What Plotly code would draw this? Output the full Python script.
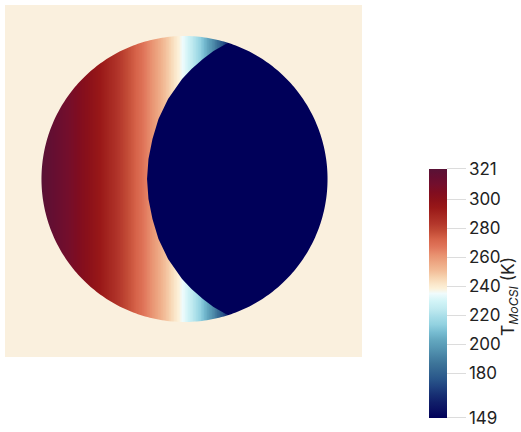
import numpy as np
import plotly.graph_objects as go

# Day-side surface temperature (K) across the disk, sampled along the
# horizontal direction (x in planet radii, star to the left).
profile_x = [-1.0, -0.9, -0.8, -0.7, -0.6, -0.5, -0.4, -0.3, -0.2, -0.1,
             0.0, 0.1, 0.2, 0.3, 0.4]
profile_T = [321, 315, 309, 302, 295, 287, 278, 269, 258, 246,
             233, 216, 194, 165, 150]

# Edge of the cold night region (x in planet radii) versus |y|.
edge_abs_y = [0.0, 0.140, 0.280, 0.420, 0.559, 0.699, 0.769, 0.839, 0.895, 0.941, 1.0]
edge_x = [-0.262, -0.252, -0.224, -0.182, -0.115, -0.017, 0.049, 0.129, 0.203, 0.283, 0.40]

T_night = 149
T_min, T_max = 149, 321
tick_vals = [149, 180, 200, 220, 240, 260, 280, 300, 321]
tick_text = [str(v) for v in tick_vals]
bar_title = "T<sub><i>MoCSI</i></sub> (K)"

BG = "#faf0de"
NIGHT = "rgb(0,0,89)"
x_range = [-1.255, 1.241]
y_range = [-1.245, 1.217]

# ParaView "Cool to Warm (Extended)" colour map
ctw_points = [
    (0.0, 0.0, 0.0, 0.34902),
    (0.03125, 0.039216, 0.062745, 0.380392),
    (0.0625, 0.062745, 0.117647, 0.411765),
    (0.09375, 0.090196, 0.184314, 0.45098),
    (0.125, 0.12549, 0.262745, 0.501961),
    (0.15625, 0.160784, 0.337255, 0.541176),
    (0.1875, 0.2, 0.396078, 0.568627),
    (0.21875, 0.239216, 0.454902, 0.6),
    (0.25, 0.286275, 0.521569, 0.65098),
    (0.28125, 0.337255, 0.592157, 0.701961),
    (0.3125, 0.388235, 0.654902, 0.74902),
    (0.34375, 0.466667, 0.737255, 0.819608),
    (0.375, 0.572549, 0.819608, 0.878431),
    (0.40625, 0.654902, 0.866667, 0.909804),
    (0.4375, 0.752941, 0.917647, 0.941176),
    (0.46875, 0.823529, 0.956863, 0.968627),
    (0.5, 0.941176, 0.984314, 0.988235),
    (0.52, 0.988235, 0.945098, 0.85098),
    (0.54, 0.980392, 0.898039, 0.784314),
    (0.5625, 0.968627, 0.835294, 0.698039),
    (0.59375, 0.94902, 0.733333, 0.588235),
    (0.625, 0.929412, 0.65098, 0.509804),
    (0.65625, 0.909804, 0.564706, 0.435294),
    (0.6875, 0.878431, 0.458824, 0.352941),
    (0.71875, 0.839216, 0.388235, 0.286275),
    (0.75, 0.760784, 0.294118, 0.211765),
    (0.78125, 0.701961, 0.211765, 0.168627),
    (0.8125, 0.65098, 0.156863, 0.129412),
    (0.84375, 0.6, 0.094118, 0.094118),
    (0.875, 0.54902, 0.066667, 0.098039),
    (0.90625, 0.501961, 0.05098, 0.12549),
    (0.9375, 0.45098, 0.054902, 0.172549),
    (0.96875, 0.4, 0.054902, 0.192157),
    (1.0, 0.34902, 0.070588, 0.211765),
]
colorscale = [[p, "rgb(%d,%d,%d)" % (round(r * 255), round(g * 255), round(b * 255))]
              for p, r, g, b in ctw_points]

# Day-side field: temperature varies with x only
ncol = 400
x_edges = np.linspace(-1.02, 1.02, ncol + 1)
x_mid = 0.5 * (x_edges[:-1] + x_edges[1:])
z_day = np.interp(x_mid, profile_x, profile_T)[None, :]

# Night region outline: the edge curve (top to bottom) closed by an arc
# just outside the limb on the right-hand side.
ey = np.array(edge_abs_y)
ex = np.array(edge_x)
term_y = np.concatenate([ey[::-1], -ey[1:]])
term_x = np.concatenate([ex[::-1], ex[1:]])
a0 = np.arctan2(term_y[-1], term_x[-1])
a1 = np.arctan2(term_y[0], term_x[0])
arc = np.linspace(a0, a1, 120)
night_x = np.concatenate([term_x, 1.1 * np.cos(arc)])
night_y = np.concatenate([term_y, 1.1 * np.sin(arc)])

# Mask: plot rectangle with a circular hole for the planet disk
th = np.linspace(0, 2 * np.pi, 361)[:-1]
rect = "M %g,%g L %g,%g L %g,%g L %g,%g Z" % (
    x_range[0], y_range[0], x_range[0], y_range[1],
    x_range[1], y_range[1], x_range[1], y_range[0])
hole = "M " + " L ".join("%.5f,%.5f" % (np.cos(t), np.sin(t)) for t in th) + " Z"

fig = go.Figure()
fig.add_trace(go.Heatmap(
    x=x_edges, y=[-1.02, 1.02], z=z_day,
    zmin=T_min, zmax=T_max,
    colorscale=colorscale,
    hoverinfo="skip",
    colorbar=dict(
        x=1.1877, xanchor="left", xpad=0,
        y=0.1804, yanchor="middle", ypad=0,
        lenmode="pixels", len=249,
        thickness=18,
        outlinewidth=0,
        tickmode="array", tickvals=tick_vals, ticktext=tick_text,
        ticks="outside", ticklen=19, tickcolor="#dcdcdc", tickwidth=1,
        tickfont=dict(family="Inter, sans-serif", size=17, color="#222222"),
    ),
))
fig.add_trace(go.Scatter(
    x=night_x, y=night_y, mode="lines", fill="toself",
    fillcolor=NIGHT, line=dict(width=0, color=NIGHT, simplify=False),
    hoverinfo="skip", showlegend=False,
))

fig.update_layout(
    width=521, height=432,
    margin=dict(l=5, r=159, t=5, b=75, autoexpand=False),
    paper_bgcolor="white",
    plot_bgcolor=BG,
    xaxis=dict(range=x_range, visible=False, showgrid=False, zeroline=False),
    yaxis=dict(range=y_range, visible=False, showgrid=False, zeroline=False),
    shapes=[dict(type="path", xref="x", yref="y", path=rect + " " + hole,
                 fillcolor=BG, line=dict(width=0), layer="above")],
    annotations=[dict(text=bar_title, textangle=-90, showarrow=False,
                      xref="paper", yref="paper", x=1.4118, y=0.1705,
                      xanchor="center", yanchor="middle",
                      font=dict(family="Inter, sans-serif", size=17.5, color="#222222"))],
    showlegend=False,
)

fig.write_html("out.html")
